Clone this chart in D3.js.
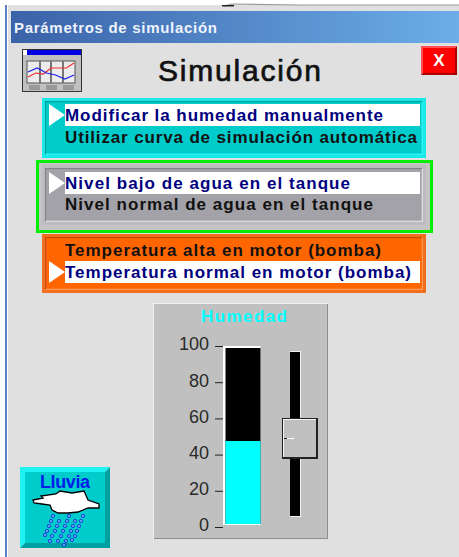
<!DOCTYPE html>
<html><head><meta charset="utf-8">
<script src="https://cdn.jsdelivr.net/npm/d3@7"></script>
<style>html,body{margin:0;padding:0;background:#fff;overflow:hidden}svg{display:block}text{font-family:"Liberation Sans",Arial,sans-serif}</style>
</head><body><svg id="c" width="459" height="557"></svg>
<script>
const windowTitle = "Parámetros de simulación";
const heading = "Simulación";
const gaugeTitle = "Humedad";
const buttonLabel = "Lluvia";
const gaugeTicks = [0, 20, 40, 60, 80, 100];
const humidity = 47.5;
const sliderValue = 50;
const group1Labels = ["Modificar la humedad manualmente", "Utilizar curva de simulación automática"];
const group2Labels = ["Nivel bajo de agua en el tanque", "Nivel normal de agua en el tanque"];
const group3Labels = ["Temperatura alta en motor (bomba)", "Temperatura normal en motor (bomba)"];
const iconRed = [3, 5.4, 4.8, 8.4, 8.4, 8.4, 11.4];
const iconBlue = [6, 8.4, 5.4, 4.2, 1.8, 4.2];

const svg = d3.select("#c");
const rect = (x, y, w, h, fill, g = svg) => g.append("rect").attr("x", x).attr("y", y).attr("width", w).attr("height", h).attr("fill", fill);
const poly = (pts, fill, g = svg) => g.append("polygon").attr("points", pts.map(p => p.join(",")).join(" ")).attr("fill", fill);
function bevel(x, y, w, h, b, light, dark, face) {
  poly([[x,y],[x+w,y],[x+w-b,y+b],[x+b,y+b],[x+b,y+h-b],[x,y+h]], light);
  poly([[x+w,y],[x+w,y+h],[x,y+h],[x+b,y+h-b],[x+w-b,y+h-b],[x+w-b,y+b]], dark);
  rect(x+b, y+b, w-2*b, h-2*b, face);
}

// window
rect(0, 0, 459, 557, "#fff");
rect(8, 5, 451, 552, "#e0e0e0");
rect(5, 5, 2, 552, "#5b82c4");
svg.append("path").attr("d", "M224 6 L232 4 L300 5 L459 5").attr("stroke", "#999").attr("fill", "none").attr("stroke-width", 1.2);
rect(222, 5, 12, 1.5, "#222");
const grad = svg.append("defs").append("linearGradient").attr("id", "tb");
grad.append("stop").attr("offset", "0").attr("stop-color", "#3a62a8");
grad.append("stop").attr("offset", "1").attr("stop-color", "#6cade9");
rect(11, 11, 448, 32, "url(#tb)");
svg.append("text").text(windowTitle).attr("x", 14).attr("y", 33).attr("fill", "#eef3fb")
  .attr("font-size", 15).attr("font-weight", "bold").attr("textLength", 203);

// heading
svg.append("text").text(heading).attr("x", 158).attr("y", 81).attr("fill", "#111")
  .attr("stroke", "#111").attr("stroke-width", 0.7)
  .attr("font-size", 30).attr("textLength", 163);

// close button
bevel(421, 46, 36, 29, 2, "#ff5050", "#a80000", "#ff0000");
svg.append("text").text("X").attr("x", 439).attr("y", 66).attr("text-anchor", "middle")
  .attr("fill", "#fff").attr("font-size", 17).attr("font-weight", "bold");

// chart icon
rect(22, 49, 60, 43, "#333");
rect(23, 50, 58, 41, "#c0c0c0");
rect(27, 50, 54, 5, "#0000e0");
rect(23, 50, 4, 5, "#fff");
rect(27, 61, 48, 22, "#ececec").attr("stroke", "#555");
const iy = d3.scaleLinear().domain([0, 12]).range([82, 62]);
[39, 50, 62].forEach(x => rect(x, 61, 2, 22, "#777"));
[[iconRed, "#f03030"], [iconBlue, "#2020f0"]].forEach(([vals, c]) => {
  const ix = d3.scaleLinear().domain([0, vals.length - 1]).range([28, 74]);
  svg.append("path").attr("d", d3.line().x((d, i) => ix(i)).y(d => iy(d))(vals))
    .attr("fill", "none").attr("stroke", c).attr("stroke-width", 1.2);
});
[29, 46, 63].forEach(x => rect(x, 85, 11, 5, "#999"));

// radio groups
function rows(labels, sel, rowYs, widths) {
  labels.forEach((t, i) => {
    const on = i === sel;
    if (on) {
      rect(65, rowYs[i] - 11, 355, 22, "#fff");
      poly([[49, rowYs[i] - 11], [65, rowYs[i]], [49, rowYs[i] + 11]], "#fff");
    }
    svg.append("text").text(t).attr("x", 65).attr("y", rowYs[i] + 6)
      .attr("fill", on ? "#000080" : "#111").attr("font-size", 17)
      .attr("font-weight", "bold").attr("textLength", widths[i]);
  });
}
function group(x, y, w, h, frame, light, dark, face) {
  rect(x, y, w, h, frame);
  bevel(x + 3, y + 3, w - 6, h - 6, 1.5, dark, light, face);
}
group(42, 98, 384, 60, "#19e8e8", "#30f4f4", "#009c9c", "#00cccc");
rows(group1Labels, 0, [115, 137], [318, 352]);
svg.append("rect").attr("x", 37.5).attr("y", 161.5).attr("width", 394).attr("height", 70)
  .attr("fill", "#c4c4c4").attr("stroke", "#00ee00").attr("stroke-width", 3);
group(42, 165, 384, 60, "#bcbcc0", "#dcdcdc", "#808086", "#a2a2a8");
rows(group2Labels, 0, [183, 204], [285, 308]);
group(42, 234, 384, 59, "#f07020", "#ff9a50", "#c84c00", "#ff6600");
rows(group3Labels, 1, [250, 272], [316, 346]);

// gauge panel
rect(153, 303, 175, 236, "#f0f0f0");
rect(154, 304, 174, 235, "#8e8e8e");
rect(154, 304, 173, 234, "#c0c0c0");
svg.append("text").text(gaugeTitle).attr("x", 201).attr("y", 322).attr("fill", "#00ffff")
  .attr("font-size", 17).attr("font-weight", "bold").attr("textLength", 86);

const y = d3.scaleLinear().domain([0, 100]).range([527, 346]);
const axis = svg.append("g").attr("transform", "translate(223,0)")
  .call(d3.axisLeft(y).tickValues(gaugeTicks).tickSize(8).tickPadding(6));
axis.select(".domain").remove();
axis.selectAll("line").attr("stroke", "#222").attr("stroke-width", 1);
axis.selectAll("text").attr("fill", "#2a2a2a").attr("font-size", 18).attr("dy", "0.22em")
  .style("font-family", '"Liberation Sans",Arial,sans-serif');

rect(223, 346, 37.5, 179, "#fff");
rect(225.5, 348, 35, 176, "#000");
rect(225.5, y(humidity), 35, 524 - y(humidity), "#00ffff");

// slider
const sy = d3.scaleLinear().domain([0, 100]).range([516, 360]);
rect(290, 351, 11, 166, "#f2f2f2");
rect(290, 352, 10, 164, "#000");
const thumb = Math.round(sy(sliderValue));
rect(282, thumb - 20, 36, 41, "#222");
rect(283, thumb - 19, 33, 38, "#f4f4f4");
rect(284, thumb - 18, 32, 37, "#c0c0c0");
rect(284, thumb, 10, 1, "#fff");
rect(284, thumb, 3, 1, "#222");

// rain button
bevel(20, 467, 90, 81, 5, "#1ff2f2", "#00a0a0", "#00cccc");
svg.append("text").text(buttonLabel).attr("x", 40).attr("y", 488).attr("fill", "#0020e8")
  .attr("font-size", 18).attr("font-weight", "bold").attr("textLength", 50);
svg.append("path").attr("d", "M33 500 L43 498 L41 496 L56 494 L60 491 L72 493 L84 491 L88 500 L99 504 L99 508 L88 508 L78 512 L68 513 L58 513 L52 510 L50 505 L42 504 L34 503 Z")
  .attr("fill", "#fff").attr("stroke", "#000").attr("stroke-width", 1.3);
const drops = [[53,516],[51,521],[49,526],[47,531],[45,535],
  [59,521],[57,526],[55,531],[52,536],[50,541],
  [69,516],[67,521],[65,526],[63,531],[61,536],[58,541],
  [75,521],[73,526],[71,531],[69,536],[66,541],[64,545],
  [83,516],[81,521],[79,526],[77,531],[75,536],[72,540]];
svg.append("g").selectAll("circle").data(drops).join("circle")
  .attr("cx", d => d[0]).attr("cy", d => d[1]).attr("r", 1.7)
  .attr("fill", "#5aa0f0").attr("stroke", "#1030d0").attr("stroke-width", 0.8);
</script></body></html>
